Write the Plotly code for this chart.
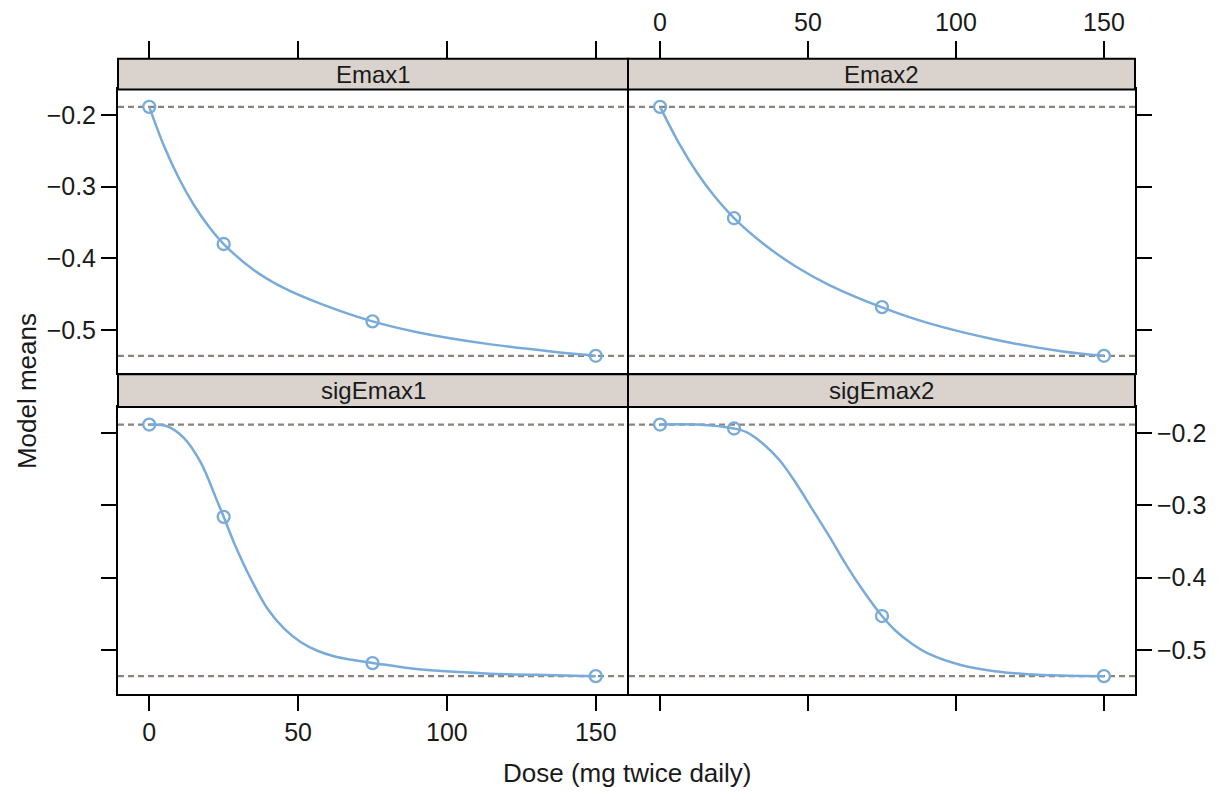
import plotly.graph_objects as go

# ---------------- data ----------------
panel_names = ["Emax1", "Emax2", "sigEmax1", "sigEmax2"]

dose_points = [0, 25, 75, 150]
emax1_points = [-0.1886, -0.380, -0.488, -0.536]
emax2_points = [-0.1886, -0.344, -0.468, -0.536]
sigemax1_points = [-0.1886, -0.316, -0.518, -0.536]
sigemax2_points = [-0.1886, -0.194, -0.453, -0.536]

emax1_curve_dose = [0, 5, 10, 15, 20, 25, 35, 45, 57, 75, 90, 113, 135, 150]
emax1_curve_mean = [-0.1886, -0.2436, -0.2886, -0.3256, -0.3556, -0.380, -0.416, -0.441,
                    -0.4625, -0.488, -0.503, -0.519, -0.530, -0.536]

emax2_curve_dose = [0, 6.8, 12.4, 18, 25, 35, 46, 57, 75, 91, 113, 135.5, 150]
emax2_curve_mean = [-0.1886, -0.2425, -0.2799, -0.3114, -0.3438, -0.3799, -0.4118,
                    -0.4369, -0.4684, -0.4908, -0.5132, -0.5296, -0.536]

sigemax1_curve_dose = [0, 6, 11.6, 17.2, 22.9, 25, 28.5, 34.2, 39.8, 45.4, 51.1,
                       56.7, 62, 68, 75, 90.5, 113, 135.6, 150]
sigemax1_curve_mean = [-0.1886, -0.1909, -0.2069, -0.2402, -0.295, -0.316, -0.352,
                       -0.4022, -0.4433, -0.4707, -0.4895, -0.5013, -0.5085, -0.5135,
                       -0.5177, -0.5265, -0.5322, -0.5347, -0.536]

sigemax2_curve_dose = [0, 12.4, 25, 29.2, 34.8, 40.4, 46, 51.6, 57.2, 62.8, 68.3,
                       75, 79.5, 85.1, 90.7, 101.9, 113.1, 124.3, 135.5, 150]
sigemax2_curve_mean = [-0.1886, -0.1886, -0.1941, -0.1991, -0.2151, -0.2379, -0.2699,
                       -0.3064, -0.3429, -0.3817, -0.416, -0.453, -0.473, -0.4913,
                       -0.505, -0.521, -0.5292, -0.5333, -0.5351, -0.536]

reference_levels = [-0.1886, -0.536]   # placebo and maximum effect (dashed lines)

x_ticks = [0, 50, 100, 150]
y_ticks = [-0.2, -0.3, -0.4, -0.5]
x_title = "Dose (mg twice daily)"
y_title = "Model means"

# ---------------- layout geometry ----------------
# the page body has an 8px margin, so the figure is drawn from (8, 8)
OFF = 8
W, H = 1214, 783
def fx(px): return (px - OFF) / W
def fy(py): return 1 - (py - OFF) / H

X_L = (fx(118), fx(627))
X_R = (fx(629), fx(1135))
Y_T = (fy(370), fy(84))
Y_B = (fy(693), fy(404))
STRIP_T = (fy(84), fy(53))
STRIP_B = (fy(404), fy(371))
STRIP_XL = (fx(118), fx(628))
STRIP_XR = (fx(628), fx(1135))

x_range = [-10.5, 160.5]
y_range = [-0.5603, -0.1643]

blue = "#78abd9"
dash_col = "#8b837f"
strip_col = "#d9d2cd"
font_family = "Liberation Sans, Arial, sans-serif"
txt_col = "#1a1a1a"
fs_tick = 25
fs_title = 26
fs_strip = 24

panels = [
    ("Emax1", emax1_curve_dose, emax1_curve_mean, emax1_points, X_L, Y_T, STRIP_XL, STRIP_T, "top", False, "left", True),
    ("Emax2", emax2_curve_dose, emax2_curve_mean, emax2_points, X_R, Y_T, STRIP_XR, STRIP_T, "top", True, "right", False),
    ("sigEmax1", sigemax1_curve_dose, sigemax1_curve_mean, sigemax1_points, X_L, Y_B, STRIP_XL, STRIP_B, "bottom", True, "left", False),
    ("sigEmax2", sigemax2_curve_dose, sigemax2_curve_mean, sigemax2_points, X_R, Y_B, STRIP_XR, STRIP_B, "bottom", False, "right", True),
]

fig = go.Figure()
shapes = []
annotations = []
layout_axes = {}

for i, (name, cx, cy, py, xd, yd, sxd, sd, xside, xlab, yside, ylab) in enumerate(panels, start=1):
    xa = "x" if i == 1 else f"x{i}"
    ya = "y" if i == 1 else f"y{i}"
    xkey = "xaxis" if i == 1 else f"xaxis{i}"
    ykey = "yaxis" if i == 1 else f"yaxis{i}"

    fig.add_trace(go.Scatter(x=cx, y=cy, mode="lines", xaxis=xa, yaxis=ya,
                             line=dict(color=blue, width=2.5, shape="spline", smoothing=1.0),
                             showlegend=False, hoverinfo="skip"))
    fig.add_trace(go.Scatter(x=dose_points, y=py, mode="markers", xaxis=xa, yaxis=ya,
                             marker=dict(symbol="circle-open", size=12, color=blue,
                                         line=dict(width=2.3, color=blue)),
                             showlegend=False))

    layout_axes[xkey] = dict(
        domain=list(xd), range=x_range, anchor=ya, side=xside,
        tickvals=x_ticks, ticks="outside",
        ticklen=(15 + 31) if xside == "top" else 15,
        tickwidth=2, tickcolor="black",
        showticklabels=xlab, showgrid=False, zeroline=False,
        showline=True, linecolor="black", linewidth=2, mirror=True,
        tickfont=dict(size=fs_tick, family=font_family, color=txt_col),
    )
    layout_axes[ykey] = dict(
        domain=list(yd), range=y_range, anchor=xa, side=yside,
        tickvals=y_ticks, ticks="outside", ticklen=15, tickwidth=2, tickcolor="black",
        showticklabels=ylab, showgrid=False, zeroline=False,
        showline=True, linecolor="black", linewidth=2, mirror=True,
        tickformat=".1f",
        tickfont=dict(size=fs_tick, family=font_family, color=txt_col),
    )

    for lvl in reference_levels:
        shapes.append(dict(type="line", xref=f"{xa} domain", yref=ya, x0=0, x1=1, y0=lvl, y1=lvl,
                           line=dict(color=dash_col, width=2.2, dash="6px,4px"), layer="below"))

    shapes.append(dict(type="rect", xref="paper", yref="paper", x0=sxd[0], x1=sxd[1],
                       y0=sd[0], y1=sd[1], fillcolor=strip_col,
                       line=dict(color="black", width=2), layer="above"))
    annotations.append(dict(text=name, xref="paper", yref="paper", x=(sxd[0] + sxd[1]) / 2,
                            y=(sd[0] + sd[1]) / 2, showarrow=False, xanchor="center",
                            yanchor="middle", font=dict(size=fs_strip, family=font_family, color=txt_col)))

annotations.append(dict(text=x_title, xref="paper", yref="paper", x=fx(627), y=fy(773),
                        showarrow=False, xanchor="center", yanchor="middle",
                        font=dict(size=fs_title, family=font_family, color=txt_col)))
annotations.append(dict(text=y_title, xref="paper", yref="paper", x=fx(27), y=fy(388),
                        showarrow=False, xanchor="center", yanchor="middle", textangle=-90,
                        font=dict(size=fs_title, family=font_family, color=txt_col)))

fig.update_layout(
    width=W, height=H, margin=dict(l=0, r=0, t=0, b=0),
    paper_bgcolor="white", plot_bgcolor="white",
    shapes=shapes, annotations=annotations, showlegend=False,
    **layout_axes,
)

fig.write_html("out.html")
